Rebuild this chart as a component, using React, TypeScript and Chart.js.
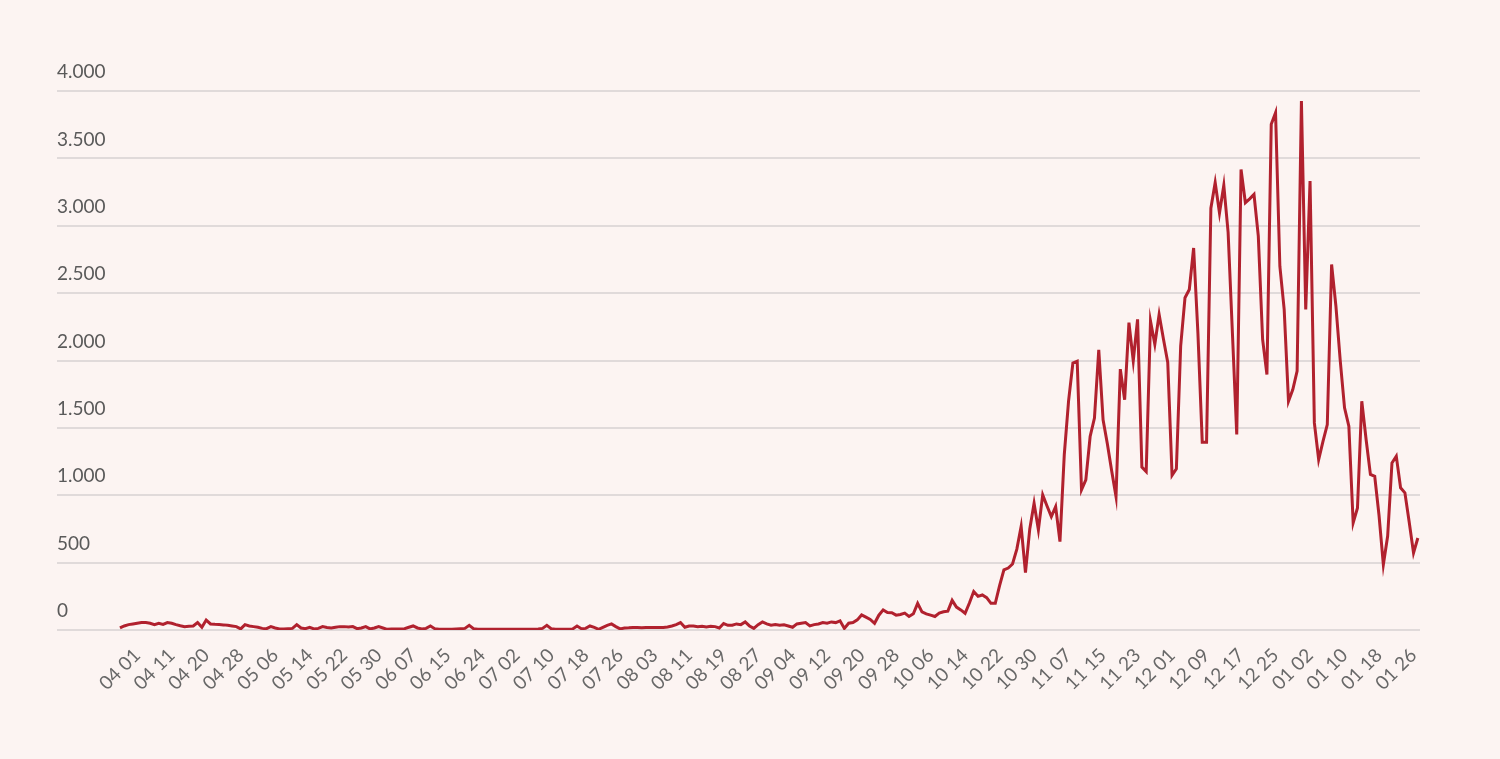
import React, { useEffect, useRef } from "react";
import { Chart, registerables } from "chart.js";

Chart.register(...registerables);

// Daily values, index 0 = 03 28 ... last index = 01 27
const VALUES: number[] = [
  15, 30, 40, 45, 50, 55, 55, 50, 40, 50,
  42, 55, 50, 40, 32, 25, 28, 30, 55, 20,
  74, 45, 42, 40, 38, 35, 30, 25, 8, 40,
  30, 25, 20, 12, 10, 25, 15, 8, 8, 10,
  12, 40, 15, 10, 20, 8, 12, 25, 18, 15,
  20, 25, 25, 22, 25, 10, 15, 25, 8, 15,
  25, 15, 5, 8, 8, 8, 10, 20, 30, 15,
  8, 12, 30, 10, 6, 5, 5, 6, 8, 10,
  12, 35, 10, 6, 5, 5, 5, 6, 5, 5,
  6, 5, 5, 5, 6, 5, 5, 8, 12, 35,
  10, 6, 5, 6, 5, 8, 30, 10, 12, 30,
  20, 5, 20, 35, 45, 25, 8, 15, 16, 18,
  18, 17, 18, 18, 19, 18, 18, 22, 30, 40,
  55, 20, 30, 30, 25, 28, 22, 28, 25, 15,
  48, 35, 35, 45, 40, 60, 30, 12, 40, 60,
  45, 35, 40, 35, 38, 30, 20, 45, 50, 55,
  30, 40, 45, 55, 50, 60, 55, 68, 12, 50,
  55, 75, 112, 95, 78, 50, 110, 149, 130, 128,
  110, 115, 125, 100, 120, 198, 135, 120, 110, 100,
  125, 135, 140, 220, 170, 149, 124, 200, 285, 250,
  260, 240, 198, 198, 330, 446, 460, 490, 600, 768,
  426, 750, 941, 743, 1003, 920, 842, 916, 656, 1300,
  1700, 1981, 1994, 1040, 1114, 1436, 1573, 2080, 1560, 1380,
  1180, 990, 1936, 1709, 2281, 1998, 2305, 1209, 1176, 2293,
  2121, 2342, 2160, 1985, 1148, 1197, 2109, 2466, 2527, 2835,
  2200, 1394, 1394, 3130, 3320, 3094, 3300, 2950, 2200, 1451,
  3418, 3171, 3200, 3233, 2923, 2156, 1896, 3753, 3839, 2700,
  2379, 1698, 1785, 1921, 3926, 2379, 3332, 1537, 1265, 1400,
  1525, 2713, 2404, 2000, 1649, 1513, 795, 906, 1698, 1414,
  1154, 1141, 850, 486, 697, 1240, 1290, 1055, 1018, 800,
  572, 683,
];

const TICK_LABELS: string[] = [
  "04 01", "04 11", "04 20", "04 28", "05 06", "05 14", "05 22", "05 30",
  "06 07", "06 15", "06 24", "07 02", "07 10", "07 18", "07 26", "08 03",
  "08 11", "08 19", "08 27", "09 04", "09 12", "09 20", "09 28", "10 06",
  "10 14", "10 22", "10 30", "11 07", "11 15", "11 23", "12 01", "12 09",
  "12 17", "12 25", "01 02", "01 10", "01 18", "01 26",
];
const FIRST_TICK_INDEX = 4;
const TICK_STEP = 8;

const Y_MAX = 4000;
const Y_STEP = 500;

const fmt = (v: number) =>
  String(Math.round(v)).replace(/\B(?=(\d{3})+(?!\d))/g, ".");

export default function App() {
  const ref = useRef<HTMLCanvasElement | null>(null);

  useEffect(() => {
    if (!ref.current) return;
    const chart = new Chart(ref.current, {
      type: "line",
      data: {
        datasets: [
          {
            data: VALUES.map((v, i) => ({ x: i, y: v })),
            borderColor: "#b1212e",
            borderWidth: 3,
            pointRadius: 0,
            tension: 0,
            borderJoinStyle: "miter",
            fill: false,
          },
        ],
      },
      options: {
        responsive: false,
        animation: false,
        devicePixelRatio: 1,
        layout: { padding: { left: 57, right: 80, top: 91, bottom: 9 } },
        plugins: { legend: { display: false }, tooltip: { enabled: false } },
        scales: {
          x: {
            type: "linear",
            min: -14.6,
            max: 301.5,
            grid: { display: false, drawTicks: false },
            border: { display: false },
            afterBuildTicks: (scale: any) => {
              scale.ticks = TICK_LABELS.map((_, k) => ({
                value: FIRST_TICK_INDEX + k * TICK_STEP,
              }));
            },
            afterFit: (scale: any) => {
              scale.height = 120;
              scale.paddingLeft = 0;
              scale.paddingRight = 0;
            },
            ticks: {
              autoSkip: false,
              minRotation: 45,
              maxRotation: 45,
              padding: 14,
              color: "#686868",
              font: { family: "Lato", size: 19 },
              callback: (value: any) =>
                TICK_LABELS[Math.round((Number(value) - FIRST_TICK_INDEX) / TICK_STEP)] ?? "",
            },
          },
          y: {
            min: 0,
            max: Y_MAX,
            grid: { color: "#e0dada", lineWidth: 2, drawTicks: false },
            border: { display: false },
            afterFit: (scale: any) => {
              scale.width = 0;
              scale.paddingTop = 0;
              scale.paddingBottom = 0;
            },
            ticks: {
              stepSize: Y_STEP,
              mirror: true,
              padding: 0,
              labelOffset: -19,
              color: "#5a5a5a",
              font: { family: "Lato", size: 19 },
              callback: (value: any) => fmt(Number(value)),
            },
          },
        },
      },
    });
    return () => chart.destroy();
  }, []);

  return (
    <div
      style={{
        position: "fixed",
        left: 0,
        top: 0,
        width: 1500,
        height: 759,
        background: "#fcf4f2",
      }}
    >
      <canvas ref={ref} width={1500} height={759} />
    </div>
  );
}
